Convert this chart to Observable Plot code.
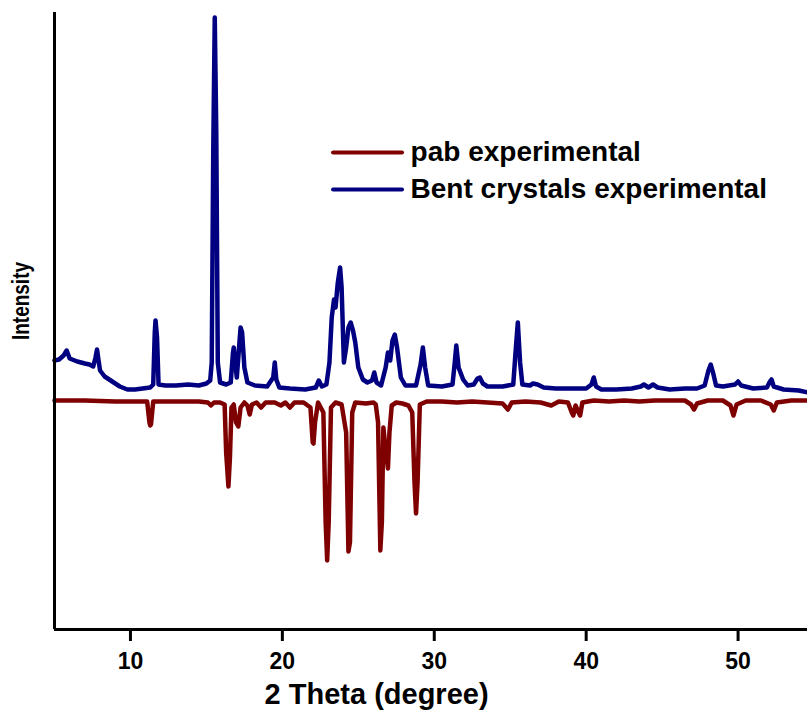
<!DOCTYPE html>
<html>
<head>
<meta charset="utf-8">
<script src="https://cdn.jsdelivr.net/npm/d3@7"></script>
<script src="https://cdn.jsdelivr.net/npm/@observablehq/plot@0.6"></script>
<style>
  html, body { margin: 0; padding: 0; background: #fff; }
  #chart { width: 807px; height: 710px; }
</style>
</head>
<body>
<div id="chart"></div>
<script>
// ---- Data (2θ in degrees, intensity in arbitrary units) ----
const seriesNames = ["pab experimental", "Bent crystals experimental"];
const seriesColors = ["#7f0000", "#000080"];
const xTicks = [10, 20, 30, 40, 50];
const xLabel = "2 Theta (degree)";
const yLabel = "Intensity";

const bentTheta = [5.0,5.3,5.6,5.8,6.0,6.5,7.0,7.3,7.55,7.7,7.8,7.9,8.0,8.3,8.8,9.3,9.8,10.3,10.8,11.3,11.5,11.6,11.65,11.75,11.85,12.3,13.0,13.8,14.5,15.0,15.25,15.35,15.45,15.55,15.65,15.75,15.9,16.3,16.6,16.75,16.8,16.9,17.0,17.1,17.25,17.35,17.5,17.7,18.2,19.0,19.4,19.5,19.6,19.8,20.5,21.5,22.2,22.4,22.6,22.9,23.1,23.25,23.4,23.5,23.65,23.8,23.9,24.05,24.2,24.35,24.5,24.65,24.8,25.0,25.3,25.6,25.9,26.05,26.2,26.5,26.8,26.95,27.1,27.25,27.4,27.55,27.8,28.1,28.8,29.1,29.25,29.4,29.6,30.5,31.2,31.35,31.45,31.6,31.9,32.2,32.6,32.85,33.0,33.2,33.5,34.5,35.2,35.35,35.5,35.65,35.8,36.3,36.5,36.8,37.2,38.0,39.0,40.0,40.35,40.5,40.65,41.0,42.0,43.0,43.6,43.8,44.1,44.4,44.7,45.5,46.5,47.3,47.8,48.05,48.2,48.35,48.55,49.0,49.8,50.0,50.2,51.0,51.9,52.1,52.2,52.35,53.0,54.0,54.6];
const bentIntensity = [269,270,274,279,271,268,266,265,263,272,280,269,259,253,248,243,240,240,241,242,245,297,309,292,245,244,244,245,244,246,249,267,477,612,497,267,247,245,247,277,282,267,252,272,302,297,262,247,244,243,252,267,250,242,241,240,242,249,243,245,267,312,330,322,347,362,342,267,282,302,307,299,287,262,250,247,249,257,247,244,262,277,269,289,295,282,252,244,244,265,282,262,244,243,245,267,284,262,250,244,245,251,252,246,243,243,245,277,307,267,245,244,246,245,242,241,241,241,245,252,243,240,240,241,243,245,242,245,242,240,241,241,244,259,265,257,244,243,245,248,244,241,242,248,250,243,240,239,237];

const pabTheta = [5.0,7.0,9.0,10.5,11.1,11.25,11.3,11.35,11.5,13.0,14.5,15.1,15.3,15.5,15.9,16.2,16.3,16.45,16.55,16.65,16.8,16.95,17.1,17.25,17.5,17.7,17.85,18.0,18.3,18.6,18.9,19.5,19.9,20.2,20.5,20.8,21.4,21.85,22.0,22.05,22.15,22.35,22.7,22.85,22.95,23.05,23.2,23.5,23.9,24.2,24.35,24.45,24.6,24.8,25.5,26.0,26.15,26.3,26.45,26.55,26.65,26.75,26.95,27.05,27.2,27.5,27.9,28.3,28.55,28.7,28.8,28.9,29.05,29.5,30.5,31.5,32.5,33.5,34.5,34.85,35.1,36.0,37.0,37.7,38.2,38.8,39.05,39.15,39.3,39.5,39.6,39.75,40.5,41.5,42.5,43.5,44.5,45.5,46.5,46.9,47.1,47.3,48.0,49.0,49.5,49.7,49.9,50.5,51.5,52.15,52.35,52.55,53.5,54.6];
const pabIntensity = [229,229,228,228,228,207,204,205,228,228,228,227,224,227,227,225,177,143,172,222,225,207,203,222,227,224,215,225,227,222,227,227,224,227,222,227,227,222,187,186,207,227,217,107,69,107,222,227,225,197,78,87,217,227,226,227,225,207,79,107,202,187,161,197,224,227,226,224,217,147,116,147,225,228,228,227,228,227,226,220,227,228,227,224,228,227,217,214,224,217,214,227,229,228,229,228,229,229,229,225,220,226,229,229,224,214,225,229,229,225,219,227,229,229];

// legend placement (in data units)
const legendRows = [
  {name: seriesNames[0], color: seriesColors[0], y: 477},
  {name: seriesNames[1], color: seriesColors[1], y: 440}
];

const pab = pabTheta.map((t, i) => ({theta: t, intensity: pabIntensity[i]}));
const bent = bentTheta.map((t, i) => ({theta: t, intensity: bentIntensity[i]}));

const chart = Plot.plot({
  width: 807,
  height: 710,
  marginLeft: 54,
  marginRight: 0,
  marginTop: 12,
  marginBottom: 81,
  style: {fontFamily: "'Liberation Sans', Arial, sans-serif", fontWeight: "bold", fontSize: "22px", background: "#fff", color: "#000"},
  x: {domain: [5, 54.57]},
  y: {domain: [0, 617], axis: null},
  marks: [
    Plot.line(pab, {x: "theta", y: "intensity", stroke: seriesColors[0], strokeWidth: 4.5, strokeLinejoin: "round", curve: "linear"}),
    Plot.line(bent, {x: "theta", y: "intensity", stroke: seriesColors[1], strokeWidth: 4.5, strokeLinejoin: "round", curve: "linear"}),
    Plot.ruleX([5], {stroke: "#000", strokeWidth: 3}),
    Plot.ruleY([0], {stroke: "#000", strokeWidth: 3}),
    Plot.axisX({ticks: xTicks, tickSize: 12, strokeWidth: 3, label: null, tickFormat: () => ""}),
    Plot.text(xTicks, {x: d => d, text: d => String(d), frameAnchor: "bottom", dy: 32, lineAnchor: "middle", fontSize: 23, fontWeight: "bold", fill: "#000"}),
    Plot.ruleY(legendRows, {y: "y", x1: 23.37, x2: 27.91, stroke: "color", strokeWidth: 4, strokeLinecap: "round"}),
    Plot.text(legendRows, {x: 28.44, y: "y", text: "name", textAnchor: "start", lineAnchor: "middle", fontSize: 28, fontWeight: "bold", fill: "#000"}),
    Plot.text([xLabel], {x: 26.2, frameAnchor: "bottom", dy: 65, lineAnchor: "middle", fontSize: 29, fontWeight: "bold", fill: "#000"}),
    Plot.text([yLabel], {frameAnchor: "left", dx: -33, dy: -20, rotate: -90, textAnchor: "middle", lineAnchor: "middle", fontSize: 23, fontWeight: "bold", fill: "#000"})
  ]
});
document.getElementById("chart").appendChild(chart);
chart.querySelectorAll("text").forEach(t => {
  if (t.textContent === yLabel) {
    t.setAttribute("textLength", "78");
    t.setAttribute("lengthAdjust", "spacingAndGlyphs");
  }
});
</script>
</body>
</html>
